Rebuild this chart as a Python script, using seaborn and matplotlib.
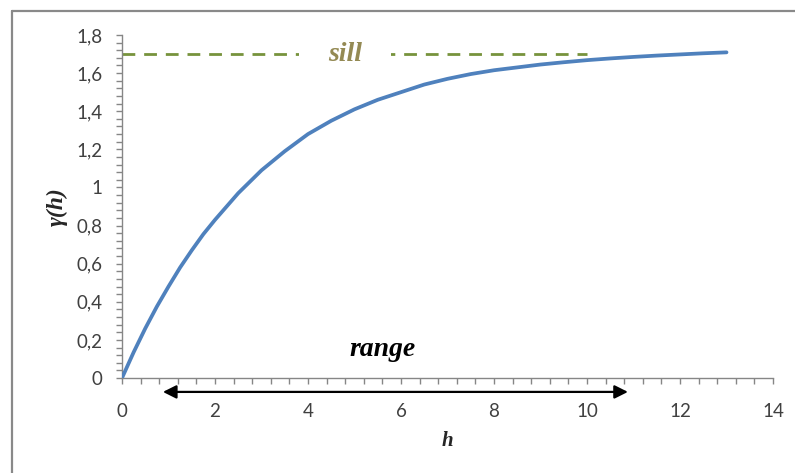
import numpy as np
import matplotlib
matplotlib.use('Agg')
import matplotlib.pyplot as plt
from matplotlib.ticker import MultipleLocator, FuncFormatter
from matplotlib.lines import Line2D
import seaborn as sns

# --- datos ---
h = [0, 0.25, 0.5, 0.75, 1.0, 1.25, 1.5, 1.75, 2.0, 2.25, 2.5, 2.75, 3.0, 3.25, 3.5,
     3.75, 4.0, 4.5, 5.0, 5.5, 6.0, 6.5, 7.0, 7.5, 8.0, 8.5, 9.0, 9.5, 10.0,
     10.5, 11.0, 11.5, 12.0, 12.5, 13.0]
gamma = [0, 0.135, 0.26, 0.375, 0.48, 0.58, 0.67, 0.755, 0.83, 0.90, 0.97, 1.03, 1.09,
         1.14, 1.19, 1.235, 1.28, 1.35, 1.41, 1.46, 1.50, 1.54, 1.57, 1.595, 1.615,
         1.63, 1.645, 1.657, 1.668, 1.677, 1.685, 1.692, 1.698, 1.704, 1.709]

sill = 1.7
sill_x = [0, 10]
range_x = [0.88, 10.88]

sns.set_style('white')
plt.rcParams['font.family'] = ['Lato', 'DejaVu Sans']

fig = plt.figure(figsize=(7.95, 4.73), dpi=100)
ax = fig.add_axes([122 / 795, 1 - 378 / 473, (773 - 122) / 795, (378 - 35) / 473])

# curva del variograma
sns.lineplot(x=h, y=gamma, color='#4F81BD', linewidth=2.7, ax=ax, zorder=5)
ax.lines[-1].set_solid_capstyle('round')
ax.lines[-1].set_solid_joinstyle('round')

# linea de meseta (sill)
sns.lineplot(x=sill_x, y=[sill, sill], color='#77933C', linewidth=2.0, ax=ax, zorder=2)
ax.lines[-1].set_dashes((4.6, 3.2))

serif = dict(family='Liberation Serif', weight='bold', style='italic')
ax.text(4.8, sill, 'sill', color='#948A54', fontsize=20, ha='center', va='center',
        bbox=dict(facecolor='white', edgecolor='none', boxstyle='square,pad=1.05'),
        zorder=3, **serif)

# rango
ax.text(5.6, 0.15, 'range', color='black', fontsize=20, ha='center', va='center', **serif)
ax.annotate('', xy=(range_x[1], -0.073), xytext=(range_x[0], -0.073),
            xycoords='data', annotation_clip=False,
            arrowprops=dict(arrowstyle='<|-|>', color='black', lw=1.6,
                            mutation_scale=20, shrinkA=0, shrinkB=0))

# ejes
ax.set_xlim(0, 14)
ax.set_ylim(0, 1.8)
ax.xaxis.set_major_locator(MultipleLocator(2))
ax.xaxis.set_minor_locator(MultipleLocator(0.4))
ax.yaxis.set_major_locator(MultipleLocator(0.2))
ax.yaxis.set_minor_locator(MultipleLocator(0.04))
ax.yaxis.set_major_formatter(FuncFormatter(lambda v, p: f'{round(v, 1):g}'.replace('.', ',')))

for side in ['top', 'right']:
    ax.spines[side].set_visible(False)
for side in ['left', 'bottom']:
    ax.spines[side].set_color('#868686')
    ax.spines[side].set_linewidth(1.0)

ax.tick_params(axis='both', which='both', direction='out', color='#868686', width=1.0,
               labelcolor='#404040', labelsize=13.5, bottom=True, left=True)
ax.tick_params(axis='x', which='both', length=4, pad=14)
ax.tick_params(axis='y', which='both', length=4, pad=10)

ax.set_xlabel('h', fontsize=15, labelpad=8, **serif)
ax.set_ylabel('γ(h)', fontsize=17, labelpad=6, **serif)

# marco del grafico
fig.add_artist(Line2D([12 / 795, 12 / 795], [0, 1 - 11 / 473], color='#898989', lw=1.6,
                      transform=fig.transFigure))
fig.add_artist(Line2D([12 / 795, 1], [1 - 11 / 473, 1 - 11 / 473], color='#898989', lw=1.6,
                      transform=fig.transFigure))

fig.savefig('out.png', dpi=100)
